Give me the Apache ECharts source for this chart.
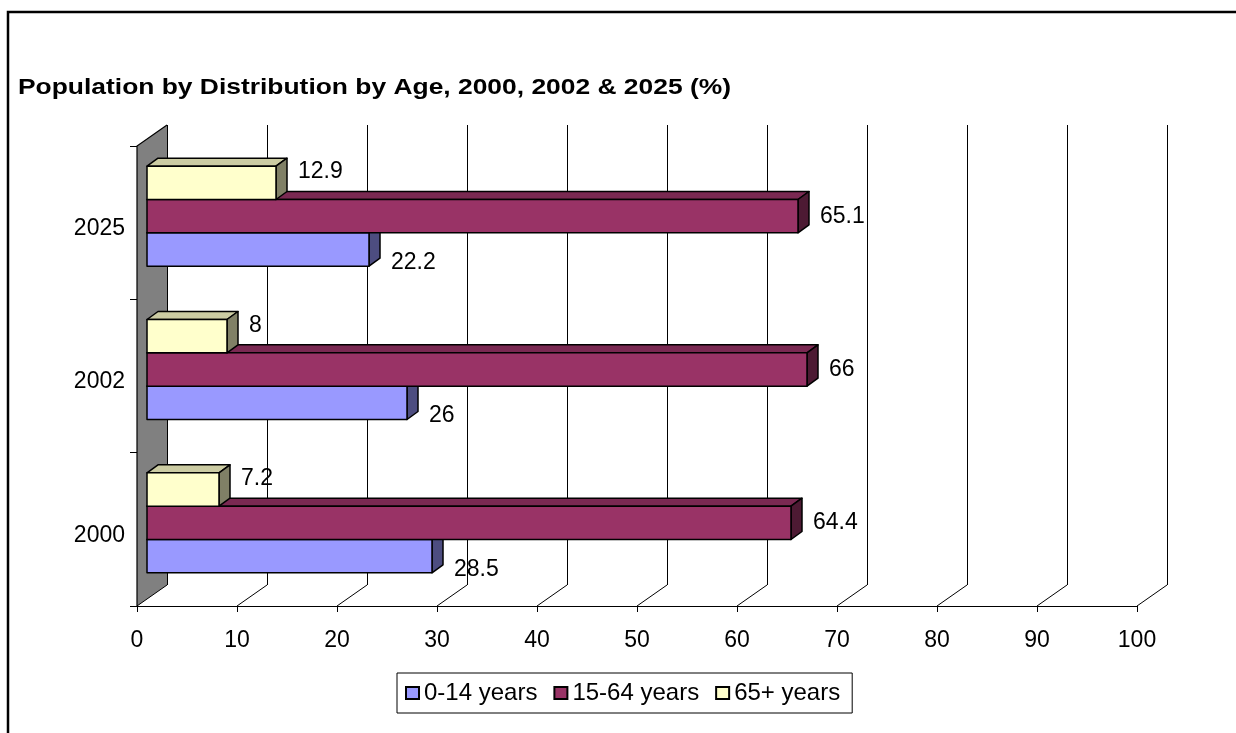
<!DOCTYPE html>
<html>
<head>
<meta charset="utf-8">
<script src="https://cdn.jsdelivr.net/npm/echarts@6/dist/echarts.min.js"></script>
<style>
  html, body { margin: 0; padding: 0; background: #fff; }
  #chart { width: 1236px; height: 733px; }
</style>
</head>
<body>
<div id="chart"></div>
<script>
// Population shares by age group (%)
const years = ['2000', '2002', '2025'];
const ages0to14 = [28.5, 26, 22.2];
const ages15to64 = [64.4, 66, 65.1];
const ages65plus = [7.2, 8, 12.9];
const seriesNames = ['0-14 years', '15-64 years', '65+ years'];
const xTicks = [0, 10, 20, 30, 40, 50, 60, 70, 80, 90, 100];
const titleText = 'Population by Distribution by Age, 2000, 2002 & 2025 (%)';

// 3D look: depth of the floor/wall, and where the boxes sit inside it
const WALL_DEPTH = [30, -21];
const BAR_OFFSET = [10, -6.5];
const BAR_DEPTH = [11, -8];
const GROUP_SHARE = 0.652;

const FONT = 'Liberation Sans, Arial, sans-serif';

const palettes = [
  { front: '#9999FF', top: '#7A7ACC', side: '#4D4D80', labelDy: 13 },
  { front: '#993366', top: '#7A2952', side: '#4D1A33', labelDy: 0 },
  { front: '#FFFFCC', top: '#CCCCA3', side: '#808066', labelDy: -11 }
];

function boxRenderer(slot, pal) {
  return function (params, api) {
    const cat = api.value(1);
    const v = api.value(0);
    const start = api.coord([0, cat]);
    const end = api.coord([v, cat]);
    const band = api.size([0, 1])[1];
    const groupH = band * GROUP_SHARE;
    const barH = groupH / 3;
    const yb = start[1] + groupH / 2 - slot * barH + BAR_OFFSET[1];
    const yt = yb - barH;
    const x0 = start[0] + BAR_OFFSET[0];
    const x1 = end[0] + BAR_OFFSET[0];
    const dx = BAR_DEPTH[0], dy = BAR_DEPTH[1];
    const edge = { stroke: '#000', lineWidth: 1.5, lineJoin: 'round' };
    return {
      type: 'group',
      children: [
        { type: 'polygon', shape: { points: [[x0, yt], [x0 + dx, yt + dy], [x1 + dx, yt + dy], [x1, yt]] },
          style: Object.assign({ fill: pal.top }, edge) },
        { type: 'polygon', shape: { points: [[x1, yt], [x1 + dx, yt + dy], [x1 + dx, yb + dy], [x1, yb]] },
          style: Object.assign({ fill: pal.side }, edge) },
        { type: 'rect', shape: { x: x0, y: yt, width: x1 - x0, height: barH },
          style: Object.assign({ fill: pal.front }, edge) },
        { type: 'text', x: x1 + 22, y: (yt + yb) / 2 + pal.labelDy,
          style: { text: String(v), fontSize: 23, fontFamily: FONT, fill: '#000',
                   align: 'left', verticalAlign: 'middle' } }
      ]
    };
  };
}

function wallRenderer(params, api) {
  const cs = params.coordSys;
  const L = cs.x, T = cs.y, B = cs.y + cs.height;
  const [dx, dy] = WALL_DEPTH;
  return {
    type: 'group',
    children: [
      { type: 'polygon', shape: { points: [[L, B], [L + dx, B + dy], [L + dx, T + dy], [L, T]] },
        style: { fill: '#808080' } },
      { type: 'polyline', shape: { points: [[L, B], [L, T], [L + dx, T + dy]] },
        style: { stroke: '#000', lineWidth: 1.2, fill: null } }
    ]
  };
}

function floorRenderer(params, api) {
  const cs = params.coordSys;
  const B = cs.y + cs.height;
  const x = api.coord([api.value(0), 0])[0];
  return {
    type: 'line',
    shape: { x1: x, y1: B, x2: x + WALL_DEPTH[0], y2: B + WALL_DEPTH[1] },
    style: { stroke: '#000', lineWidth: 1 }
  };
}

const valueSets = [ages0to14, ages15to64, ages65plus];

const boxSeries = valueSets.map((vals, i) => ({
  name: seriesNames[i],
  type: 'custom',
  xAxisIndex: 0,
  yAxisIndex: 0,
  itemStyle: { color: palettes[i].front, borderColor: '#000', borderWidth: 1 },
  renderItem: boxRenderer(i, palettes[i]),
  data: vals.map((v, c) => [v, c]),
  z: 10 + i
}));

const chart = echarts.init(document.getElementById('chart'), null, { renderer: 'canvas' });

chart.setOption({
  animation: false,
  backgroundColor: '#fff',
  legend: {
    data: seriesNames,
    left: 397,
    top: 673,
    icon: 'rect',
    itemWidth: 13,
    itemHeight: 12,
    itemGap: 16,
    padding: [8, 12, 8, 8],
    borderColor: '#000',
    borderWidth: 1,
    textStyle: { fontFamily: FONT, fontSize: 24, color: '#000' }
  },
  grid: [
    { left: 137, top: 146, width: 1000, height: 460 },
    { left: 167, top: 125, width: 1000, height: 460 }
  ],
  xAxis: [
    {
      type: 'value', gridIndex: 0, min: 0, max: 100, interval: 10,
      axisLine: { show: true, lineStyle: { color: '#000', width: 1 } },
      axisTick: { show: true, length: 6, lineStyle: { color: '#000' } },
      splitLine: { show: false },
      axisLabel: { margin: 23, fontFamily: FONT, fontSize: 23, color: '#000' }
    },
    {
      type: 'value', gridIndex: 1, min: 0, max: 100, interval: 10,
      axisLine: { show: false }, axisTick: { show: false }, axisLabel: { show: false },
      splitLine: { show: true, lineStyle: { color: '#000', width: 1 } }
    }
  ],
  yAxis: [
    {
      type: 'category', gridIndex: 0, data: years,
      axisLine: { show: true, lineStyle: { color: '#000', width: 1 } },
      axisTick: { show: true, length: 7, lineStyle: { color: '#000' } },
      axisLabel: {
        margin: 12, color: '#000',
        formatter: '{y|{value}}',
        rich: { y: { fontFamily: FONT, fontSize: 23, color: '#000', padding: [12, 0, 0, 0] } }
      }
    },
    {
      type: 'category', gridIndex: 1, data: years, show: false
    }
  ],
  graphic: [
    { type: 'text', x: 18, y: 88, scaleX: 1.2, scaleY: 1,
      style: { text: titleText, fontFamily: FONT, fontWeight: 'bold', fontSize: 22, fill: '#000',
               align: 'left', verticalAlign: 'middle' }, z: 50 },
    { type: 'rect', shape: { x: 8, y: 12, width: 1400, height: 900 },
      style: { fill: null, stroke: '#000', lineWidth: 2.5 }, z: 100 }
  ],
  series: [
    { type: 'custom', name: 'wall', xAxisIndex: 0, yAxisIndex: 0, renderItem: wallRenderer,
      data: [[0, 0]], z: 3, silent: true },
    { type: 'custom', name: 'floor', xAxisIndex: 0, yAxisIndex: 0, renderItem: floorRenderer,
      data: xTicks.map(t => [t, 0]), z: 3, silent: true }
  ].concat(boxSeries)
});
</script>
</body>
</html>
